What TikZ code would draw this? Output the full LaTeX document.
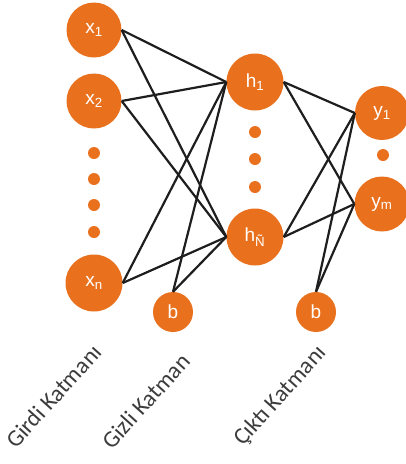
\documentclass[tikz,border=0pt]{standalone}
\usepackage{fontspec}
\setmainfont{Liberation Sans}
\newfontfamily\labfont{Carlito}
\definecolor{nodeor}{RGB}{233,113,30}
\definecolor{edgek}{RGB}{30,30,30}
\definecolor{labgray}{RGB}{60,60,60}
\begin{document}
\begin{tikzpicture}[x=1pt,y=-1pt,
  neuron/.style={circle,fill=nodeor,draw=none,minimum size=#1,inner sep=0pt,text=white,font=\fontsize{19}{19}\selectfont},
  neuron/.default=55pt,
  dotn/.style={circle,fill=nodeor,minimum size=12pt,inner sep=0pt},
  edge/.style={draw=edgek,line width=2.2pt},
  layerlab/.style={anchor=base west,rotate=48,text=labgray,font=\labfont\fontsize{23.5}{23.5}\selectfont,inner sep=0pt}]
\useasboundingbox (0,0) rectangle (406,464);
% input layer
\node[neuron] (x1) at (94,30) {x\textsubscript{1}};
\node[neuron] (x2) at (94,101) {x\textsubscript{2}};
\node[dotn] (d1) at (94,153) {};
\node[dotn] (d2) at (94,179) {};
\node[dotn] (d3) at (94,205) {};
\node[dotn] (d4) at (94,232) {};
\node[neuron=57pt] (xn) at (94,283) {x\textsubscript{n}};
\node[neuron=40pt] (b1) at (173,312) {b};
% hidden layer
\node[neuron=57pt] (h1) at (255,82) {h\textsubscript{1}};
\node[dotn] (e1) at (255,132) {};
\node[dotn] (e2) at (255,159) {};
\node[dotn] (e3) at (255,187) {};
\node[neuron=57pt] (hN) at (255,237) {h\textsubscript{Ñ}};
\node[neuron=40pt] (b2) at (316,312) {b};
% output layer
\node[neuron=54pt] (y1) at (382,113) {y\textsubscript{1}};
\node[dotn] (f1) at (383,155) {};
\node[neuron=55pt] (ym) at (382,204) {y\textsubscript{m}};
% edges
\foreach \s in {x1,x2,xn} {
  \foreach \t in {h1,hN} {
    \draw[edge] (\s.east) -- (\t.west);
  }
}
\foreach \t in {h1,hN} { \draw[edge] (b1.north) -- (\t.west); }
\foreach \s in {h1,hN} {
  \foreach \t in {y1,ym} {
    \draw[edge] (\s.east) -- (\t.west);
  }
}
\foreach \t in {y1,ym} { \draw[edge] (b2.north) -- (\t.west); }
% labels
\node[layerlab] (l1) at (16,450) {Girdi Katmanı};
\node[layerlab] (l2) at (112,451) {Gizli Katman};
\node[layerlab] (l3) at (243,447) {Çıktı Katmanı};
\end{tikzpicture}
\end{document}
